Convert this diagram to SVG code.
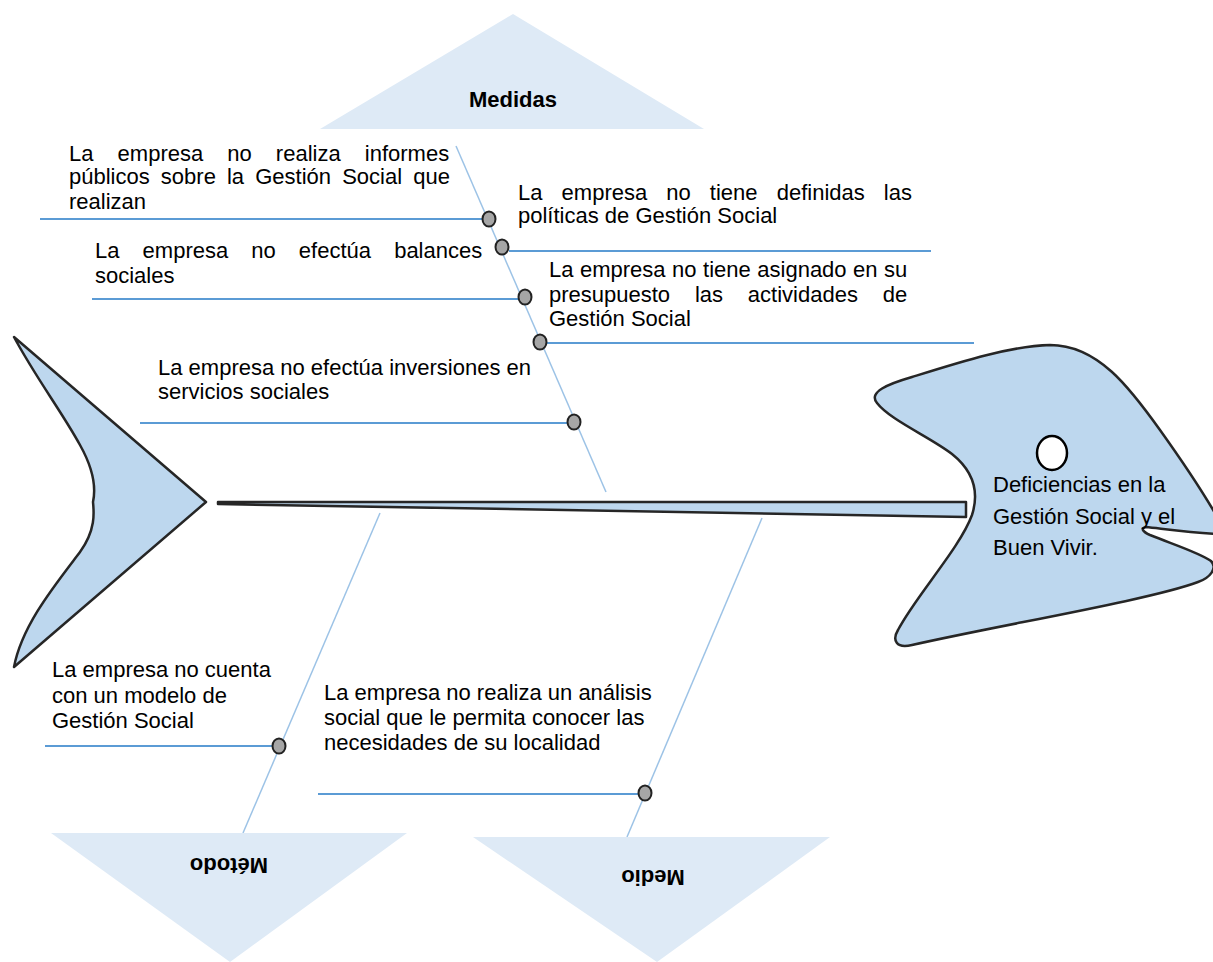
<svg xmlns="http://www.w3.org/2000/svg" width="1213" height="962" viewBox="0 0 1213 962">
<style>
.t{font-family:"Liberation Sans",Arial,sans-serif;font-size:22px;fill:#000}
.h{font-family:"Liberation Sans",Arial,sans-serif;font-size:22px;font-weight:bold;fill:#000}
.cat{fill:#deeaf6;stroke:none}
.bone{stroke:#9dc3e6;stroke-width:1.5;fill:none}
.sub{stroke:#5b9bd5;stroke-width:2;fill:none}
.dot{fill:#a6a6a6;stroke:#222;stroke-width:2}
.fish{fill:#bdd7ee;stroke:#262626;stroke-width:2.5;stroke-linejoin:round}
</style>
<rect width="1213" height="962" fill="#fff"/>
<g id="connectors">
<line class="bone" x1="456" y1="146" x2="606" y2="492"/>
<line class="bone" x1="380" y1="513" x2="243" y2="833"/>
<line class="bone" x1="762" y1="518" x2="627" y2="837"/>
<line class="sub" x1="40" y1="219" x2="483" y2="219"/>
<line class="sub" x1="509" y1="251" x2="931" y2="251"/>
<line class="sub" x1="92" y1="299" x2="519" y2="299"/>
<line class="sub" x1="547" y1="343" x2="974" y2="343"/>
<line class="sub" x1="140" y1="423" x2="567" y2="423"/>
<line class="sub" x1="45" y1="746" x2="273" y2="746"/>
<line class="sub" x1="318" y1="794" x2="639" y2="794"/>
</g>
<g id="tail">
<path class="fish" d="M14,337 L206,502 L14,667 C22,625 55,585 80,552 C96,530 94,512 93,502 C96,488 94,470 80,445 C62,412 36,378 14,337 Z"/>
</g>
<g id="spine">
<path class="fish" d="M218,502 L966,502 L966,517 L218,504 Z"/>
</g>
<g id="head">
<path class="fish" d="M877,403 C868,392 888,384 912,377 C960,362 1010,346 1050,345 C1098,345 1130,388 1160,430 C1185,465 1205,495 1220,522 L1220,534 C1195,533 1165,529 1146,527 C1140,528 1143,532 1150,535 C1175,545 1200,553 1211,561 C1218,568 1210,578 1198,582 C1150,600 1000,625 912,645 C896,649 892,640 898,630 C915,597 960,548 972,515 C980,490 972,470 952,454 C930,437 890,420 877,403 Z"/>
<ellipse cx="1052" cy="453" rx="15" ry="17" fill="#fff" stroke="#000" stroke-width="2.5"/>
<text class="t" x="993" y="492">Deficiencias en la</text>
<text class="t" x="993" y="524">Gestión Social y el</text>
<text class="t" x="993" y="555">Buen Vivir.</text>
</g>
<g id="cat-medidas">
<polygon class="cat" points="513,14 704,129 320,129"/>
<text class="h" x="513" y="107" text-anchor="middle">Medidas</text>
</g>
<g id="cat-metodo">
<polygon class="cat" points="51,833 407,833 230,962"/>
<text class="h" transform="translate(229,866) rotate(180)" text-anchor="middle" y="8">Método</text>
</g>
<g id="cat-medio">
<polygon class="cat" points="473,837 830,837 657,962"/>
<text class="h" transform="translate(653,878) rotate(180)" text-anchor="middle" y="8">Medio</text>
</g>
<g id="cause1">
<ellipse class="dot" cx="489" cy="219" rx="6.5" ry="7.5"/>
<text class="t" x="69" y="161" word-spacing="18">La empresa no realiza informes</text>
<text class="t" x="69" y="184" word-spacing="5">públicos sobre la Gestión Social que</text>
<text class="t" x="69" y="208.5">realizan</text>
</g>
<g id="cause2">
<ellipse class="dot" cx="502" cy="247" rx="6.5" ry="7.5"/>
<text class="t" x="518" y="200" word-spacing="13">La empresa no tiene definidas las</text>
<text class="t" x="518" y="223">políticas de Gestión Social</text>
</g>
<g id="cause3">
<ellipse class="dot" cx="525" cy="297" rx="6.5" ry="7.5"/>
<text class="t" x="95" y="258" word-spacing="17">La empresa no efectúa balances</text>
<text class="t" x="95" y="283">sociales</text>
</g>
<g id="cause4">
<ellipse class="dot" cx="540" cy="342" rx="6.5" ry="7.5"/>
<text class="t" x="549" y="277" word-spacing="0.4">La empresa no tiene asignado en su</text>
<text class="t" x="549" y="302" word-spacing="18.7">presupuesto las actividades de</text>
<text class="t" x="549" y="326">Gestión Social</text>
</g>
<g id="cause5">
<ellipse class="dot" cx="574" cy="422" rx="6.5" ry="7.5"/>
<text class="t" x="158" y="375">La empresa no efectúa inversiones en</text>
<text class="t" x="158" y="399">servicios sociales</text>
</g>
<g id="cause6">
<ellipse class="dot" cx="279" cy="746" rx="6.5" ry="7.5"/>
<text class="t" x="52" y="677">La empresa no cuenta</text>
<text class="t" x="52" y="703">con un modelo de</text>
<text class="t" x="52" y="728">Gestión Social</text>
</g>
<g id="cause7">
<ellipse class="dot" cx="645" cy="793" rx="6.5" ry="7.5"/>
<text class="t" x="324" y="700">La empresa no realiza un análisis</text>
<text class="t" x="324" y="725">social que le permita conocer las</text>
<text class="t" x="324" y="750">necesidades de su localidad</text>
</g>
</svg>
